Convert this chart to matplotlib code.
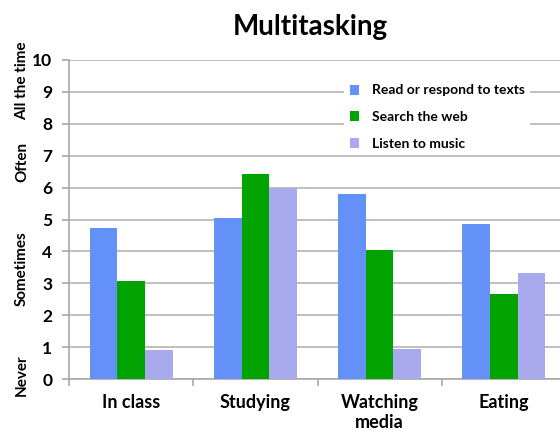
import matplotlib
matplotlib.use("Agg")
import matplotlib.pyplot as plt
import matplotlib.transforms as mtransforms
import numpy as np

categories = ["In class", "Studying", "Watching\nmedia", "Eating"]
series_names = ["Read or respond to texts", "Search the web", "Listen to music"]
texts = [4.73, 5.04, 5.80, 4.86]
web = [3.07, 6.43, 4.04, 2.66]
music = [0.90, 6.00, 0.94, 3.32]
colors = ["#6391f7", "#00a300", "#a9aaee"]
yticks = list(range(0, 11))
freq_labels = ["Never", "Sometimes", "Often", "All the time"]
freq_pos = [0.13, 3.45, 6.8, 9.34]

plt.rcParams['font.family'] = ['Lato', 'DejaVu Sans']

W, H = 560, 432
fig = plt.figure(figsize=(W / 100, H / 100), dpi=100)
ax = fig.add_axes([69 / W, 1 - 379 / H, (566 - 69) / W, (379 - 60) / H])

x = np.arange(len(categories))
bw = 0.223
for i, (vals, name, c) in enumerate(zip([texts, web, music], series_names, colors)):
    ax.bar(x + (i - 1) * bw, vals, bw, color=c, label=name, zorder=3)

ax.set_xlim(-0.5, len(categories) - 0.5)
ax.set_ylim(0, 10)
ax.set_yticks(yticks)
ax.set_yticklabels([str(t) for t in yticks], fontsize=12.5, fontweight='bold')
ax.yaxis.grid(True, color='#b4b4b4', linewidth=1.2, zorder=0)
ax.set_axisbelow(True)
for s in ['top', 'right']:
    ax.spines[s].set_visible(False)
for s in ['left', 'bottom']:
    ax.spines[s].set_color('#a8a8a8')
    ax.spines[s].set_linewidth(1.2)
ax.tick_params(axis='y', length=5, color='#a8a8a8', width=1.2, pad=7)
ax.set_xticks(np.arange(len(categories) + 1) - 0.5, minor=True)
ax.set_xticks(x)
ax.set_xticklabels(categories, fontsize=13, fontweight='bold', linespacing=1.2)
ax.tick_params(axis='x', which='major', length=0, pad=11)
ax.tick_params(axis='x', which='minor', length=5, color='#a8a8a8', width=1.2)

trans = mtransforms.blended_transform_factory(fig.transFigure, ax.transData)
for lab, yp in zip(freq_labels, freq_pos):
    ax.text(22 / W, yp, lab, transform=trans, rotation=90, ha='center', va='center',
            fontsize=11, fontweight='bold', clip_on=False)

leg = ax.legend(loc='upper left', bbox_to_anchor=(337 / W, 1 - 72 / H), bbox_transform=fig.transFigure,
                frameon=True, fancybox=False, edgecolor='none', facecolor='white', framealpha=1,
                prop={'weight': 'bold', 'size': 10}, handlelength=0.7, handleheight=0.7,
                labelspacing=1.05, handletextpad=0.9, borderpad=0.4)
leg.set_zorder(5)

fig.text(310 / W, 1 - 27 / H, "Multitasking", ha='center', va='center', fontsize=20, fontweight='bold')

fig.savefig("out.png", dpi=100, facecolor='white')
